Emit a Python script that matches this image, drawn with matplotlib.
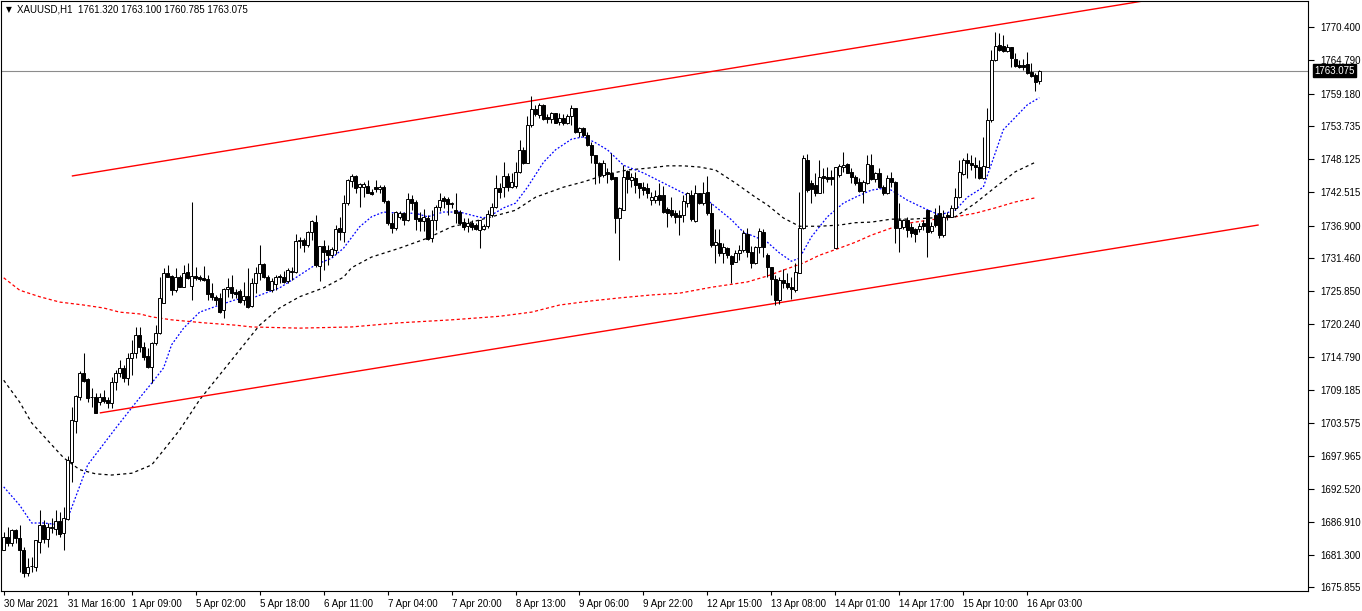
import matplotlib
matplotlib.use('Agg')
import matplotlib.pyplot as plt
from matplotlib.transforms import blended_transform_factory, offset_copy
import numpy as np

# ---------------- data (XAUUSD H1) ----------------
opens = [
 1682.1,1684.3,1683.3,1685.5,1684.2,1682.1,1678.3,1679.4,1679.3,1683.5,
 1686.4,1684.0,1685.9,1685.7,1687.0,1685.0,1687.4,1697.0,1703.9,1707.9,
 1712.0,1711.0,1707.9,1707.9,1707.1,1707.9,1707.5,1707.0,1710.5,1712.0,
 1712.9,1711.2,1714.6,1715.4,1718.4,1716.4,1714.9,1713.0,1717.1,1718.8,
 1723.8,1728.9,1728.4,1726.0,1728.2,1726.5,1729.1,1726.7,1728.4,1728.2,
 1728.1,1727.9,1725.5,1724.9,1724.7,1722.7,1726.2,1726.5,1725.7,1725.9,
 1724.4,1725.0,1723.3,1727.2,1728.9,1730.4,1728.2,1726.0,1727.1,1728.4,
 1728.2,1727.6,1729.1,1729.1,1734.3,1734.5,1733.6,1735.8,1737.5,1730.1,
 1733.5,1732.8,1732.0,1732.8,1736.5,1735.8,1740.7,1744.4,1745.3,1743.4,
 1743.5,1743.6,1742.6,1743.4,1743.1,1743.4,1741.1,1737.4,1736.5,1738.3,
 1739.0,1737.9,1741.4,1740.9,1738.2,1737.7,1738.2,1734.8,1737.9,1740.1,
 1741.6,1741.4,1740.5,1739.5,1739.2,1737.5,1736.8,1737.4,1737.0,1736.2,
 1736.3,1736.8,1738.7,1740.1,1743.3,1743.4,1745.3,1743.4,1743.6,1746.0,
 1749.7,1747.5,1753.9,1756.6,1755.6,1757.3,1755.3,1754.9,1755.9,1754.4,
 1755.1,1754.2,1755.4,1756.8,1752.7,1753.4,1752.2,1750.5,1748.8,1747.5,
 1745.5,1746.0,1745.8,1745.1,1738.2,1739.5,1746.1,1744.6,1744.9,1744.1,
 1743.4,1743.3,1741.2,1741.2,1742.1,1742.1,1739.7,1739.5,1739.0,1738.7,
 1738.7,1740.7,1742.1,1737.7,1742.4,1740.7,1742.6,1739.0,1733.6,1734.0,
 1732.3,1733.1,1731.8,1730.8,1732.3,1732.8,1735.5,1732.5,1730.6,1733.3,
 1735.8,1732.0,1729.9,1727.9,1724.4,1727.7,1727.2,1726.5,1726.0,1728.9,
 1736.5,1748.0,1744.1,1743.8,1742.4,1745.3,1745.2,1745.1,1733.1,1745.5,
 1746.8,1747.3,1746.0,1745.1,1744.3,1742.8,1744.1,1747.1,1744.8,1745.8,
 1743.4,1742.4,1744.9,1744.3,1736.5,1736.7,1737.9,1736.7,1736.3,1736.3,
 1737.4,1739.5,1736.0,1738.7,1739.0,1735.3,1738.7,1738.4,1739.9,1741.7,
 1745.6,1748.0,1747.5,1747.1,1746.8,1744.9,1746.8,1754.7,1764.9,1767.4,
 1767.2,1766.4,1767.1,1765.0,1764.0,1764.0,1764.2,1762.8,1762.3,1761.32]

highs = [
 1685.2,1686.0,1685.7,1685.7,1686.4,1682.7,1680.8,1681.0,1683.8,1688.9,
 1687.2,1686.7,1687.5,1688.9,1688.6,1689.4,1698.0,1706.3,1708.3,1712.4,
 1715.4,1711.2,1709.5,1708.6,1708.6,1709.2,1707.9,1711.3,1712.5,1714.2,
 1713.4,1715.4,1717.6,1719.8,1719.8,1717.3,1716.2,1717.3,1720.1,1728.2,
 1729.8,1730.3,1728.6,1729.8,1728.6,1730.3,1730.6,1740.9,1729.9,1728.6,
 1730.1,1728.6,1727.2,1725.2,1725.5,1726.4,1728.1,1728.6,1726.2,1726.2,
 1727.4,1729.8,1728.1,1729.9,1733.6,1730.6,1728.6,1728.1,1728.6,1728.7,
 1729.2,1729.8,1729.9,1735.5,1735.0,1734.8,1736.0,1737.9,1738.7,1733.5,
 1734.5,1733.6,1733.3,1737.0,1738.4,1742.1,1744.8,1745.6,1745.5,1744.1,
 1744.3,1744.6,1743.1,1744.6,1743.8,1743.8,1741.2,1739.0,1739.4,1739.4,
 1739.2,1742.4,1742.1,1741.2,1739.2,1739.7,1738.7,1739.5,1740.4,1742.4,
 1741.9,1741.7,1740.9,1742.4,1739.5,1738.2,1738.2,1737.9,1737.4,1737.9,
 1737.2,1739.5,1740.7,1745.5,1744.1,1747.6,1745.8,1745.8,1747.6,1751.4,
 1750.2,1755.4,1758.8,1757.3,1757.6,1757.4,1755.8,1756.1,1755.9,1755.9,
 1755.8,1755.8,1757.3,1756.8,1753.6,1753.6,1752.7,1751.0,1748.8,1747.6,
 1748.0,1746.6,1749.2,1745.1,1740.1,1747.1,1746.3,1745.8,1746.0,1744.1,
 1744.3,1744.1,1742.6,1742.9,1744.1,1743.6,1740.1,1741.7,1739.5,1739.5,
 1742.1,1742.6,1742.9,1743.8,1742.4,1744.3,1745.3,1740.7,1736.3,1736.3,
 1734.0,1733.3,1732.0,1732.8,1733.6,1736.2,1736.5,1733.5,1733.5,1736.5,
 1736.3,1732.3,1729.9,1728.6,1728.2,1729.6,1728.9,1728.2,1730.6,1742.6,
 1748.8,1749.0,1744.6,1745.8,1748.0,1746.6,1746.8,1746.3,1746.8,1747.3,
 1749.3,1747.5,1746.6,1745.5,1744.9,1744.6,1748.8,1749.0,1746.0,1746.6,
 1743.8,1745.5,1746.0,1744.4,1740.7,1738.0,1738.4,1737.4,1736.5,1737.4,
 1737.9,1739.5,1737.5,1739.9,1740.4,1739.5,1739.2,1740.4,1743.3,1748.0,
 1748.3,1749.2,1748.8,1748.5,1748.0,1751.9,1756.8,1766.6,1769.6,1769.4,
 1769.1,1767.6,1767.1,1766.1,1764.9,1765.0,1766.2,1764.4,1762.7,1763.10]

lows = [
 1682.1,1682.8,1682.8,1683.3,1678.4,1677.6,1677.8,1678.4,1678.6,1681.6,
 1683.3,1682.7,1685.0,1684.7,1684.3,1682.1,1687.2,1693.6,1701.9,1707.5,
 1710.5,1707.1,1706.3,1705.3,1706.6,1707.0,1706.1,1706.1,1709.2,1711.3,
 1710.5,1710.0,1711.7,1714.6,1715.6,1714.2,1712.9,1710.3,1716.8,1718.6,
 1723.8,1728.2,1725.2,1725.7,1726.5,1726.5,1727.9,1724.4,1727.7,1727.6,
 1727.6,1724.4,1724.4,1723.5,1722.2,1721.3,1724.9,1724.7,1724.7,1723.8,
 1723.5,1723.0,1723.2,1725.5,1727.7,1728.1,1726.0,1725.7,1726.0,1727.2,
 1727.2,1727.2,1727.7,1728.9,1733.1,1732.5,1733.3,1734.5,1729.9,1727.6,
 1729.4,1730.3,1731.6,1732.1,1734.5,1734.1,1740.4,1743.4,1742.4,1740.1,
 1741.7,1742.4,1742.1,1742.6,1742.4,1740.7,1737.0,1735.7,1736.2,1738.0,
 1737.0,1737.7,1739.5,1736.2,1736.0,1736.0,1734.5,1734.1,1736.2,1739.4,
 1739.9,1738.7,1739.9,1737.4,1737.0,1736.2,1735.8,1736.2,1736.2,1733.1,
 1736.2,1736.5,1738.4,1739.9,1741.6,1741.7,1742.8,1743.3,1743.3,1745.8,
 1747.3,1747.5,1753.6,1755.4,1755.1,1754.7,1754.2,1754.2,1754.2,1753.9,
 1753.9,1754.1,1753.9,1752.5,1751.9,1751.9,1750.4,1747.5,1743.9,1744.1,
 1745.1,1744.1,1744.6,1735.7,1731.1,1739.5,1742.4,1743.4,1742.4,1741.6,
 1742.1,1741.6,1740.4,1740.7,1740.4,1739.0,1736.7,1738.4,1737.4,1735.3,
 1737.5,1740.1,1737.7,1737.5,1740.6,1740.4,1738.7,1733.3,1730.6,1731.8,
 1730.6,1731.4,1727.2,1730.8,1731.1,1732.5,1731.6,1729.8,1730.4,1732.3,
 1731.6,1728.2,1725.2,1723.5,1723.7,1726.4,1726.2,1724.5,1725.7,1728.9,
 1736.3,1742.6,1740.7,1741.9,1742.4,1742.4,1744.3,1743.8,1733.1,1745.1,
 1746.0,1745.8,1744.1,1743.8,1742.6,1740.7,1743.9,1744.6,1744.3,1743.3,
 1742.1,1742.2,1743.4,1734.0,1732.5,1736.3,1735.0,1735.0,1734.1,1735.8,
 1736.2,1731.6,1735.7,1736.7,1734.8,1735.0,1737.9,1738.4,1739.5,1741.6,
 1745.5,1744.9,1746.3,1744.9,1744.8,1744.8,1746.8,1754.4,1764.7,1766.4,
 1766.2,1766.2,1763.7,1763.7,1763.5,1763.2,1762.5,1762.0,1759.6,1760.785]

closes = [
 1684.3,1683.3,1685.5,1684.2,1682.1,1678.3,1679.3,1679.5,1683.8,1686.4,
 1684.0,1686.0,1686.0,1687.0,1684.8,1687.5,1697.3,1704.1,1708.1,1712.0,
 1710.7,1707.8,1708.0,1705.3,1707.9,1707.3,1707.0,1710.5,1712.0,1712.9,
 1711.2,1714.6,1715.4,1718.4,1716.4,1714.7,1713.0,1717.1,1718.8,1724.7,
 1728.9,1728.2,1726.0,1728.2,1726.5,1728.9,1728.1,1728.4,1728.1,1727.9,
 1727.7,1725.4,1724.9,1724.4,1722.3,1726.2,1726.5,1725.5,1725.4,1724.0,
 1725.0,1723.2,1727.2,1728.9,1730.4,1728.2,1726.0,1727.6,1728.2,1728.2,
 1727.4,1729.4,1729.2,1734.3,1734.5,1733.6,1735.8,1737.7,1730.3,1733.5,
 1732.5,1732.0,1733.0,1736.3,1735.8,1740.7,1744.6,1745.3,1743.3,1743.9,
 1744.0,1742.4,1742.3,1743.1,1743.4,1741.1,1737.4,1736.5,1739.2,1739.1,
 1737.9,1741.4,1740.7,1738.0,1737.7,1738.4,1734.6,1737.9,1740.1,1741.2,
 1741.1,1740.6,1740.8,1739.0,1737.4,1736.7,1737.4,1736.7,1736.3,1737.9,
 1736.8,1738.9,1740.1,1743.3,1742.6,1745.3,1743.4,1744.3,1746.0,1749.7,
 1747.5,1753.9,1756.6,1755.8,1757.3,1754.9,1754.9,1755.9,1754.2,1755.1,
 1754.2,1755.4,1756.8,1752.7,1753.4,1752.2,1750.5,1748.8,1747.5,1745.5,
 1747.5,1745.6,1744.8,1738.2,1739.9,1745.1,1744.8,1745.1,1743.8,1743.3,
 1742.9,1742.4,1741.7,1741.9,1741.2,1739.2,1739.0,1738.7,1738.4,1738.3,
 1741.1,1742.4,1738.0,1742.4,1740.7,1742.4,1739.0,1733.6,1734.1,1732.3,
 1733.3,1732.0,1730.4,1732.3,1732.8,1735.7,1732.5,1730.6,1733.3,1736.0,
 1733.3,1729.9,1727.9,1724.4,1727.7,1727.2,1726.5,1726.2,1729.1,1736.5,
 1748.3,1742.9,1743.1,1742.4,1745.1,1744.9,1744.8,1744.8,1746.8,1747.0,
 1747.1,1745.8,1745.1,1744.1,1742.8,1744.3,1747.3,1744.8,1745.8,1743.4,
 1742.4,1744.9,1744.3,1736.5,1737.9,1737.8,1736.2,1735.7,1735.5,1736.8,
 1736.8,1735.8,1736.8,1737.0,1735.3,1738.4,1738.4,1739.9,1741.7,1746.0,
 1748.0,1747.5,1747.1,1746.8,1744.9,1747.0,1754.7,1764.9,1767.2,1766.6,
 1766.4,1767.1,1765.2,1763.9,1763.7,1763.7,1762.7,1762.2,1761.2,1763.075]

# moving averages (bar index, price)
ma_fast_idx = [0,4,7,10,14,16,18,21,28,33,37,40,42,45,49,54,58,63,69,73,
               78,82,85,89,92,95,99,103,106,110,114,118,120,122,125,128,131,135,138,142,
               145,148,151,155,160,165,170,172,176,182,185,188,191,194,197,199,202,206,210,213,
               217,221,226,230,234,238,241,245,248,250,253,256,259]
ma_fast_val = [1692.8,1689.7,1686.7,1686.7,1686.4,1687.5,1691.1,1696.5,1702.7,1707.0,
               1710.3,1712.9,1716.8,1719.6,1722.3,1723.5,1724.4,1724.9,1726.4,1728.1,
               1730.3,1731.4,1733.1,1736.7,1738.4,1739.2,1739.0,1739.0,1738.4,1739.2,
               1739.2,1738.5,1738.2,1738.7,1739.9,1740.7,1743.4,1747.6,1749.7,1751.5,
               1751.9,1750.9,1749.7,1747.1,1745.8,1744.1,1742.4,1741.6,1741.2,1737.9,
               1735.8,1735.0,1734.1,1732.3,1730.9,1731.4,1735.0,1738.4,1740.7,1741.7,
               1742.9,1743.3,1741.2,1739.9,1738.7,1739.5,1741.7,1743.4,1749.2,1753.1,
               1755.2,1757.3,1758.5]

ma_mid_idx = [0,4,7,12,15,19,23,27,32,37,40,44,49,54,59,64,69,74,80,85,
              87,92,99,106,112,117,122,128,133,140,145,151,156,161,166,170,174,178,183,188,
              191,195,199,204,209,213,217,222,227,232,238,243,248,253,258]
ma_mid_val = [1710.8,1707.1,1703.6,1699.9,1697.7,1695.7,1695.0,1694.8,1695.1,1696.5,
              1699.0,1702.4,1707.5,1711.7,1715.9,1720.1,1723.0,1724.9,1726.4,1728.2,
              1729.8,1731.6,1733.1,1734.8,1736.7,1737.5,1738.4,1739.5,1741.7,1743.4,
              1744.3,1745.6,1746.3,1746.6,1747.0,1747.0,1746.8,1746.3,1744.1,1741.7,
              1740.4,1738.2,1736.8,1736.8,1737.0,1737.4,1737.5,1738.0,1738.0,1738.2,
              1738.4,1740.7,1743.4,1746.0,1747.6]

ma_slow_idx = [0,4,9,14,20,25,29,34,37,42,50,58,62,74,87,99,112,124,132,139,
               147,154,162,169,177,186,191,195,200,204,209,213,217,222,227,232,238,243,248,253,258]
ma_slow_val = [1728.1,1726.0,1724.9,1724.0,1723.5,1723.0,1722.3,1722.0,1721.5,1721.0,
               1720.5,1720.1,1719.8,1719.6,1719.8,1720.5,1721.0,1721.6,1722.3,1723.5,
               1724.2,1724.7,1725.2,1725.5,1726.5,1727.4,1728.4,1729.4,1730.6,1731.9,
               1733.1,1734.1,1735.3,1736.5,1737.4,1737.9,1738.4,1739.0,1739.9,1740.9,1741.6]

# channel trend lines (bar index, price)
chan_upper_idx = [17.2, 313.7]
chan_upper_val = [1745.3, 1778.0]
chan_lower_idx = [24.2, 313.7]
chan_lower_val = [1705.3, 1737.0]

current_price = 1763.075

price_ticks = [1770.400, 1764.790, 1759.180, 1753.735, 1748.125, 1742.515, 1736.900,
               1731.460, 1725.850, 1720.240, 1714.790, 1709.185, 1703.575, 1697.965,
               1692.520, 1686.910, 1681.300, 1675.855]
date_idx = [0,16,32,48,64,80,96,112,128,144,160,176,192,208,224,240,256]
date_labels = ["30 Mar 2021","31 Mar 16:00","1 Apr 09:00","5 Apr 02:00","5 Apr 18:00",
               "6 Apr 11:00","7 Apr 04:00","7 Apr 20:00","8 Apr 13:00","9 Apr 06:00",
               "9 Apr 22:00","12 Apr 15:00","13 Apr 08:00","14 Apr 01:00","14 Apr 17:00",
               "15 Apr 10:00","16 Apr 03:00"]
title = "XAUUSD,H1  1761.320 1763.100 1760.785 1763.075"

# ---------------- drawing ----------------
plt.rcParams['font.family'] = ['Liberation Sans', 'DejaVu Sans']
W, H = 1362, 611
fig = plt.figure(figsize=(W/100, H/100), dpi=100)
fig.patch.set_facecolor('white')
ax = fig.add_axes([0.5/W, 20/H, 1307.5/W, 590/H])
ax.set_facecolor('white')

o = np.array(opens); h = np.array(highs); l = np.array(lows); c = np.array(closes)
x = np.arange(len(o))

# moving averages
ax.plot(ma_slow_idx, ma_slow_val, color='#ff0000', lw=0.9, ls=(0, (2.5, 2)), zorder=1)
ax.plot(ma_mid_idx, ma_mid_val, color='black', lw=0.9, ls=(0, (2.5, 2.5)), zorder=1)
ax.plot(ma_fast_idx, ma_fast_val, color='#0000ff', lw=0.9, ls=(0, (1.5, 1.5)), zorder=1)

# channel lines
ax.plot(chan_upper_idx, chan_upper_val, color='#ff0000', lw=1.0, zorder=2)
ax.plot(chan_lower_idx, chan_lower_val, color='#ff0000', lw=1.0, zorder=2)

# current price line
ax.axhline(current_price, color='#8c8c8c', lw=0.8, zorder=1)

# candles
ax.vlines(x, l, h, colors='black', linewidth=0.75, zorder=3)
bull = c >= o
body_h = np.maximum(np.abs(c - o), 0.06)
ax.bar(x, body_h, bottom=np.minimum(o, c), width=0.6,
       color=np.where(bull, 'white', 'black'), edgecolor='black',
       linewidth=0.7, zorder=4)

ax.set_xlim(-0.8, 326.2)
ax.set_ylim(1675.22, 1774.83)

# axes styling
for s in ax.spines.values():
    s.set_color('black'); s.set_linewidth(0.8)
ax.yaxis.tick_right()
ax.set_yticks(price_ticks)
ax.set_yticklabels([f"{p:.3f}" for p in price_ticks])
ax.tick_params(axis='y', direction='out', length=4, width=0.8, labelsize=7, pad=5, colors='black')
ax.set_xticks(date_idx)
ax.set_xticklabels(date_labels)
ax.tick_params(axis='x', direction='out', length=3, width=0.8, labelsize=7, pad=3, colors='black')
for lab in ax.get_xticklabels():
    lab.set_ha('left')

# current price box on axis
tr = offset_copy(blended_transform_factory(ax.transAxes, ax.transData), fig=fig, x=6, y=0, units='dots')
ax.text(1.0, current_price, f"{current_price:.3f}", transform=tr, ha='left', va='center',
        fontsize=7, color='white', clip_on=False, zorder=10,
        bbox=dict(facecolor='black', edgecolor='black', boxstyle='square,pad=0.15'))

# title
fig.text(6/W, 1 - 10/H, "\u25BC", fontsize=5.5, va='center', ha='left', family='DejaVu Sans')
fig.text(17/W, 1 - 10/H, title, fontsize=7, va='center', ha='left')

fig.savefig('out.png', dpi=100, facecolor='white')
